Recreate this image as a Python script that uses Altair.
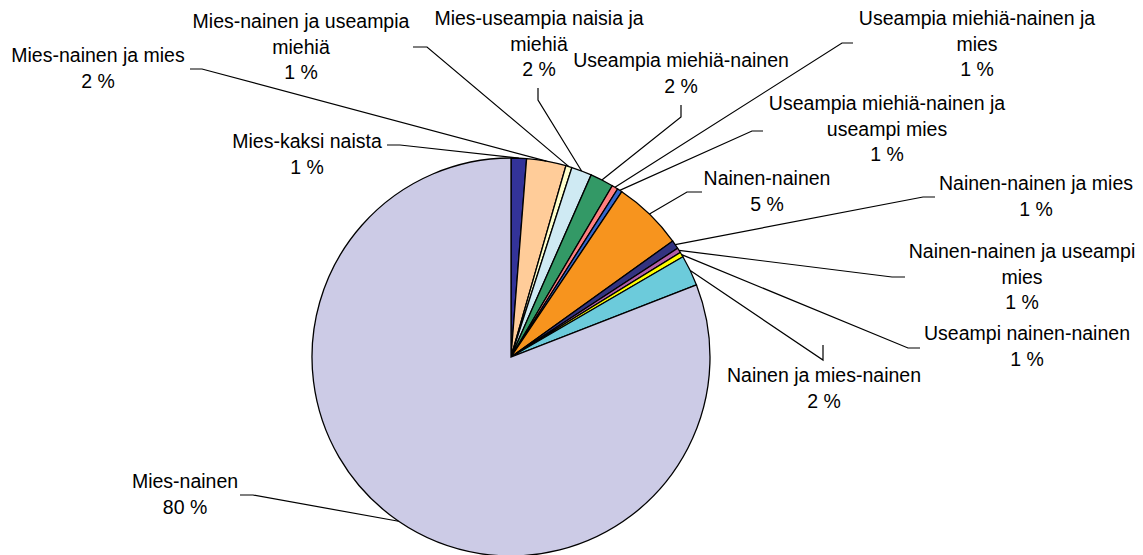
import math
import altair as alt
import pandas as pd

# ---------------- data ----------------
categories = [
    "Mies-kaksi naista",
    "Mies-nainen ja mies",
    "Mies-nainen ja useampia miehiä",
    "Mies-useampia naisia ja miehiä",
    "Useampia miehiä-nainen",
    "Useampia miehiä-nainen ja mies",
    "Useampia miehiä-nainen ja useampi mies",
    "Nainen-nainen",
    "Nainen-nainen ja mies",
    "Nainen-nainen ja useampi mies",
    "Useampi nainen-nainen",
    "Nainen ja mies-nainen",
    "Mies-nainen",
]
values = [1.25, 3.2, 0.5, 1.65, 1.9, 0.5, 0.4, 5.7, 0.7, 0.4, 0.4, 2.5, 80.9]
label_texts = [
    "Mies-kaksi naista\n1 %",
    "Mies-nainen ja mies\n2 %",
    "Mies-nainen ja useampia\nmiehiä\n1 %",
    "Mies-useampia naisia ja\nmiehiä\n2 %",
    "Useampia miehiä-nainen\n2 %",
    "Useampia miehiä-nainen ja\nmies\n1 %",
    "Useampia miehiä-nainen ja\nuseampi mies\n1 %",
    "Nainen-nainen\n5 %",
    "Nainen-nainen ja mies\n1 %",
    "Nainen-nainen ja useampi\nmies\n1 %",
    "Useampi nainen-nainen\n1 %",
    "Nainen ja mies-nainen\n2 %",
    "Mies-nainen\n80 %",
]

# ---------------- styles / layout ----------------
colors = ["#333399", "#FFCC99", "#FFFFCC", "#CFEAF3", "#339966", "#FF8080",
          "#3366CC", "#F7941E", "#333380", "#B25FA9", "#FFFF00", "#6CCBDB",
          "#CCCBE6"]
M = 8  # page margin
CX, CY, R = 511 - M, 357 - M, 199
label_x = [307, 98, 301, 539, 681, 977, 887, 767, 1036, 1022, 1027, 824, 185]
label_y = [148, 62, 28, 25, 67, 25, 110, 185, 190, 258, 340, 382, 488]
lead_start = [(387, 145), (190, 69), (413, 47), (538, 88), (681, 105), (853, 43),
              (763, 131), (702, 192), (935, 197), (905, 277), (920, 348),
              (823, 345), (240, 495)]
lead_knee = [(400, 145), (202, 69), (427, 47), (538, 100), (681, 117), (842, 43),
             (752, 131), (687, 192), (923, 197), (892, 277), (908, 348),
             (823, 360), (253, 495)]

W, H = 1127, 547

pie_df = pd.DataFrame({"cat": categories, "value": values,
                       "idx": list(range(len(categories)))})

total = sum(values)
rows = []
cum = 0.0
for i, v in enumerate(values):
    mid = (cum + v / 2) / total * 2 * math.pi
    cum += v
    ax = CX + R * math.sin(mid)
    ay = CY - R * math.cos(mid)
    pts = [(lead_start[i][0] - M, lead_start[i][1] - M),
           (lead_knee[i][0] - M, lead_knee[i][1] - M),
           (ax, ay)]
    for k, (px, py) in enumerate(pts):
        rows.append({"lab": i, "k": k, "x": px, "y": py})
lead_df = pd.DataFrame(rows)

text_df = pd.DataFrame({"label": label_texts,
                        "x": [v - M for v in label_x],
                        "y": [v - M for v in label_y]})

pie = alt.Chart(pie_df).mark_arc(outerRadius=R, stroke="black", strokeWidth=1.3).encode(
    theta=alt.Theta("value:Q", stack=True),
    color=alt.Color("cat:N", scale=alt.Scale(domain=categories, range=colors), legend=None),
    order=alt.Order("idx:Q"),
    x=alt.value(CX),
    y=alt.value(CY),
)

leaders = alt.Chart(lead_df).mark_line(color="black", strokeWidth=1.2).encode(
    x=alt.X("x:Q", scale=None),
    y=alt.Y("y:Q", scale=None),
    detail="lab:N",
    order="k:Q",
)

labels = alt.Chart(text_df).mark_text(
    align="center", baseline="alphabetic", fontSize=19.5,
    font="Liberation Sans", lineBreak="\n", lineHeight=25.5, color="black",
).encode(
    x=alt.X("x:Q", scale=None),
    y=alt.Y("y:Q", scale=None),
    text="label:N",
)

chart = alt.layer(pie, leaders, labels).properties(
    width=W, height=H, padding=0,
    autosize=alt.AutoSizeParams(type="none"),
    background="white",
).configure_view(stroke=None)

chart.save("out.html", embed_options={"renderer": "svg", "actions": False})
